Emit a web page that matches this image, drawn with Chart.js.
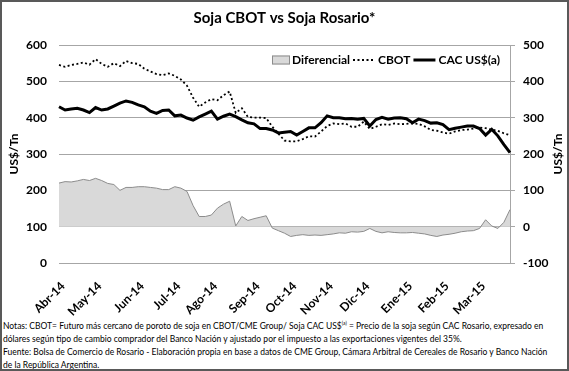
<!DOCTYPE html>
<html lang="es">
<head>
<meta charset="utf-8">
<title>Soja CBOT vs Soja Rosario</title>
<script src="https://cdn.jsdelivr.net/npm/chart.js@4.4.1/dist/chart.umd.min.js"></script>
<style>
  html, body { margin: 0; padding: 0; background: #fff; }
  #marco { position: relative; width: 569px; height: 371px; overflow: hidden; font-family: Lato, "Open Sans", sans-serif; }
  #grafico-wrap { position: absolute; left: 0; top: 0; width: 569px; height: 320px; }
  #notas { position: absolute; left: 3px; top: 320px; font-size: 8.5px; line-height: 13px; color: #000; white-space: nowrap; }
  #notas sup { font-size: 5px; line-height: 0; }
  #borde { position: absolute; left: 0; top: 0; width: 569px; height: 371px; box-sizing: border-box; border: 2px solid #595959; pointer-events: none; }
</style>
</head>
<body>
<div id="marco">
  <div id="grafico-wrap"><canvas id="grafico" width="569" height="320"></canvas></div>
  <div id="notas">
    Notas: CBOT= Futuro más cercano de poroto de soja en CBOT/CME Group/ Soja CAC US$<sup>(a)</sup> = Precio de la soja según CAC Rosario, expresado en<br>
    dólares según tipo de cambio comprador del Banco Nación y ajustado por el impuesto a las exportaciones vigentes del 35%.<br>
    Fuente: Bolsa de Comercio de Rosario - Elaboración propia en base a datos de CME Group, Cámara Arbitral de Cereales de Rosario y Banco Nación<br>
    de la República Argentina.
  </div>
  <div id="borde"></div>
</div>
<script>
// meses del eje x y la posicion (indice de dato) donde empieza cada uno
const meses = ["Abr-14", "May-14", "Jun-14", "Jul-14", "Ago-14", "Sep-14", "Oct-14", "Nov-14", "Dic-14", "Ene-15", "Feb-15", "Mar-15"];
const posMeses = [0, 6, 13, 19, 25, 32, 38, 44, 50, 57, 63, 69];

// US$/Tn, eje izquierdo
const cbot = [
  545, 540, 545, 548, 552, 546, 561, 548, 540, 550,
  542, 556, 550, 548, 535, 527, 520, 517, 522, 515,
  505, 488, 455, 430, 442, 451, 448, 462, 472, 413,
  426, 402, 400, 400, 399, 375, 356, 337, 335, 335,
  341, 349, 348, 362, 377, 384, 382, 384, 375, 375,
  389, 369, 375, 382, 380, 384, 382, 383, 384, 383,
  376, 366, 364, 359, 356, 362, 366, 367, 370, 373,
  371, 367, 364, 357, 352
];
const cac = [
  430, 421, 424, 426, 421, 414, 428, 421, 424, 432,
  440, 446, 442, 435, 430, 418, 412, 420, 421, 405,
  407, 399, 393, 402, 410, 418, 396, 404, 410, 403,
  394, 386, 383, 370, 370, 366, 358, 360, 362, 352,
  362, 372, 372, 386, 405, 400, 400, 397, 398, 396,
  398, 377, 395, 401, 396, 399, 400, 397, 386, 396,
  392, 385, 386, 381, 367, 371, 374, 377, 377, 370,
  352, 368, 350, 326, 304
];
// US$/Tn, eje derecho
const diferencial = [
  120, 124, 123, 126, 130, 127, 133, 127, 119, 116,
  100, 108, 108, 110, 110, 108, 106, 102, 102, 110,
  106, 97, 58, 28, 28, 32, 51, 62, 70, 2,
  28, 17, 22, 26, 30, -4, -11, -18, -27, -24,
  -22, -24, -23, -24, -22, -20, -17, -18, -14, -15,
  -13, -5, -13, -17, -14, -16, -17, -17, -16, -18,
  -20, -24, -27, -23, -21, -18, -14, -12, -11, -5,
  19, 2, -5, 12, 47
];

const fuente = "Lato, 'Open Sans', sans-serif";
const gris = "#a6a6a6";

const etiquetas = cbot.map(() => "");
posMeses.forEach((p, i) => { etiquetas[p] = meses[i]; });

// leyenda dentro del area y titulo del eje derecho
const extras = {
  id: "extras",
  afterDraw(chart) {
    const ctx = chart.ctx;
    ctx.save();
    ctx.font = "bold 12px " + fuente;
    ctx.textBaseline = "middle";
    ctx.fillStyle = "#000";
    let x = 272;
    const y = 60;
    chart.data.datasets.forEach(ds => {
      if (ds.fill) {
        ctx.fillStyle = ds.backgroundColor;
        ctx.fillRect(x, y - 4.5, 18, 9);
        ctx.strokeStyle = ds.borderColor;
        ctx.lineWidth = 1;
        ctx.strokeRect(x + 0.5, y - 4, 17, 8);
        x += 20;
      } else {
        ctx.strokeStyle = ds.borderColor;
        ctx.lineWidth = ds.borderWidth;
        ctx.setLineDash(ds.borderDash || []);
        ctx.beginPath();
        ctx.moveTo(x, y);
        ctx.lineTo(x + 22, y);
        ctx.stroke();
        ctx.setLineDash([]);
        x += 25;
      }
      ctx.fillStyle = "#000";
      ctx.fillText(ds.label, x, y);
      x += ctx.measureText(ds.label).width + 3;
    });

    ctx.translate(558, chart.chartArea.top + (chart.chartArea.bottom - chart.chartArea.top) / 2);
    ctx.rotate(-Math.PI / 2);
    ctx.textAlign = "center";
    ctx.fillText("US$/Tn", 0, 0);
    ctx.restore();
  }
};

new Chart(document.getElementById("grafico"), {
  type: "line",
  data: {
    labels: etiquetas,
    datasets: [
      {
        label: "Diferencial",
        data: diferencial,
        yAxisID: "y1",
        fill: "origin",
        backgroundColor: "#d9d9d9",
        borderColor: "#8c8c8c",
        borderWidth: 1,
        pointRadius: 0,
        tension: 0,
        order: 2
      },
      {
        label: "CBOT",
        data: cbot,
        yAxisID: "y",
        fill: false,
        borderColor: "#000",
        borderWidth: 1.8,
        borderDash: [2, 2.5],
        pointRadius: 0,
        tension: 0,
        order: 1
      },
      {
        label: "CAC US$(a)",
        data: cac,
        yAxisID: "y",
        fill: false,
        borderColor: "#000",
        borderWidth: 3,
        pointRadius: 0,
        tension: 0,
        order: 0
      }
    ]
  },
  options: {
    responsive: false,
    animation: false,
    layout: { padding: { left: 0, right: 0, top: 0, bottom: 0 } },
    plugins: {
      legend: { display: false },
      tooltip: { enabled: false },
      title: {
        display: true,
        text: "Soja CBOT vs Soja Rosario*",
        color: "#000",
        font: { family: fuente, size: 15, weight: "bold" },
        padding: { top: 9, bottom: 18 }
      }
    },
    scales: {
      x: {
        grid: { display: false },
        border: { display: false },
        ticks: {
          autoSkip: false,
          minRotation: 45,
          maxRotation: 45,
          padding: 8,
          labelOffset: 4,
          color: "#000",
          font: { family: fuente, size: 12, weight: "bold" }
        },
        afterFit: s => { s.height = 57; }
      },
      y: {
        position: "left",
        min: 0,
        max: 600,
        ticks: {
          stepSize: 100,
          padding: 12,
          color: "#000",
          font: { family: fuente, size: 12, weight: "bold" }
        },
        grid: { color: gris, drawTicks: false },
        border: { display: false },
        title: {
          display: true,
          text: "US$/Tn",
          color: "#000",
          padding: { top: 7, bottom: 0 },
          font: { family: fuente, size: 12, weight: "bold" }
        },
        afterFit: s => { s.width = 59; }
      },
      y1: {
        position: "right",
        min: -100,
        max: 500,
        ticks: {
          stepSize: 100,
          padding: 8,
          color: "#000",
          font: { family: fuente, size: 12, weight: "bold" }
        },
        grid: { drawOnChartArea: false, drawTicks: true, tickLength: 5, color: gris },
        border: { display: true, color: gris },
        afterFit: s => { s.width = 59; }
      }
    }
  },
  plugins: [extras]
});
</script>
</body>
</html>
